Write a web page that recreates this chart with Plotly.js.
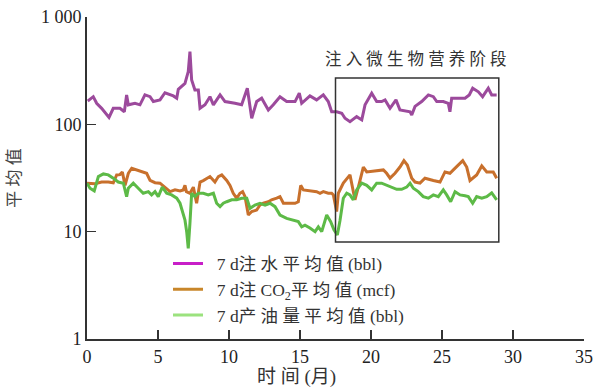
<!DOCTYPE html>
<html>
<head>
<meta charset="utf-8">
<script src="https://cdn.plot.ly/plotly-3.0.1.min.js"></script>
<style>html,body{margin:0;padding:0;background:#fff;}#chart{width:595px;height:388px;}</style>
</head>
<body>
<div id="chart"></div>
<script>
// 7 d water injection average (bbl)
const waterMonth = [0.05,0.44,0.68,1.03,1.55,1.85,2.32,2.63,2.79,2.91,3.38,3.73,4.08,4.44,4.67,5.14,5.49,6.08,6.32,6.43,6.9,7.13,7.25,7.37,7.6,7.84,7.96,8.31,8.66,8.9,9.37,9.72,10.42,10.89,11.29,11.48,11.6,11.95,12.3,12.77,13.12,13.59,14.06,14.65,14.95,15.12,15.7,16.17,16.64,16.99,17.23,17.58,17.94,18.17,18.52,18.99,19.35,19.58,20.05,20.4,20.75,20.99,21.34,21.76,22.04,22.75,22.87,23.1,23.57,24.04,24.39,24.63,25.09,25.44,25.56,25.68,26.62,26.92,27.16,27.56,27.86,28.26,28.5,28.85];
const waterVal = [165,181,157,141,116,141,141,131,188,152,157,152,188,181,163,169,197,184,175,212,241,310,476,259,209,209,141,152,181,152,188,163,157,152,217,147,114,163,175,136,152,181,163,163,195,157,184,169,188,163,131,131,127,114,106,118,110,152,195,163,163,169,141,169,136,131,122,147,163,188,181,163,163,157,131,175,175,188,217,201,181,217,188,188];

// 7 d CO2 injection average (mcf)
const co2Month = [0,0.56,1.03,1.5,1.85,2.09,2.32,2.49,2.68,2.91,3.15,3.5,3.85,4.2,4.44,4.79,5.14,5.49,5.85,6.2,6.55,6.78,6.9,7.0,7.25,7.49,7.72,7.96,8.19,8.66,8.9,9.01,9.25,9.49,9.84,10.07,10.3,10.54,10.77,10.96,11.13,11.36,11.6,11.95,12.18,12.42,12.77,13.0,13.36,13.59,13.83,14.3,14.65,14.88,15.05,15.24,15.7,16.17,16.41,16.64,16.99,17.23,17.35,17.58,17.7,18.05,18.52,18.64,18.87,19.18,19.46,19.7,20.4,20.87,21.1,21.34,21.69,22.04,22.32,22.56,22.87,23.1,23.45,23.8,24.39,24.86,25.21,25.56,25.8,26.15,26.46,26.74,26.97,27.44,27.8,28.15,28.61,28.85];
const co2Val = [28.3,28,29,29,28.5,33.8,34,36,27,35,39,37.6,36,35,30,28.6,28.3,26,23.6,24.5,24,24.5,27,23.6,22.8,26,18.4,29,29.9,32.6,30,29,32.6,33.8,30,27,22.8,20.5,22.8,23.6,21.2,14.3,15.4,15.9,17.7,18.4,19,19.8,20.5,21.2,18.4,18.4,18.4,19,27,24.5,24,23.6,22.8,23.6,22.8,22.8,22,15.4,22.8,28.3,33.8,28.3,19.8,28.3,40,36,37,37.6,35,31.5,35,40,45.9,41.8,31.5,29,28.3,31.5,30,29,36,35,37.6,41.8,45.9,40,30,33.8,41,36,36,31.5];

// 7 d oil production average (bbl)
const oilMonth = [0,0.21,0.51,0.8,1.15,1.5,1.85,2.2,2.56,2.79,2.91,3.26,3.61,3.96,4.32,4.55,4.79,5.02,5.3,5.61,5.96,6.32,6.55,6.78,6.9,7.02,7.13,7.25,7.37,7.6,7.84,8.19,8.54,8.9,9.13,9.37,9.6,9.84,10.19,10.54,10.89,11.25,11.48,11.83,12.18,12.54,12.89,13.24,13.59,14.06,14.53,14.88,15.12,15.35,15.7,16.06,16.29,16.53,16.88,17.16,17.39,17.63,17.82,18.05,18.29,18.52,18.75,18.99,19.35,19.7,20.05,20.4,20.75,21.1,21.46,21.81,22.16,22.51,22.75,22.98,23.33,23.68,24.04,24.39,24.74,25.09,25.33,25.61,25.92,26.27,26.62,26.85,27.16,27.44,27.8,28.15,28.5,28.73,28.85];
const oilVal = [28.3,25.4,24,32.6,34.5,33.8,31.5,29,28.3,21.2,25.4,28.3,25.4,22.8,23.6,22,23.6,21.2,26,22.8,22,20.5,18.4,14.3,12.8,10,7.0,12,22.8,21.2,22.8,22.8,22,22.8,18.4,17.1,18.4,19,19.8,19.8,20.5,20.5,16.5,17.7,18.4,17.7,18.4,17.1,14.3,13.3,12.8,12.4,11.1,11.5,10.8,10,11.1,10,14.3,12.4,10.4,9.3,12.8,20.5,22.8,22,19.8,24.5,28.3,27,24.5,28.3,28.3,27,26,24.8,24.8,26,28.3,25.4,23.6,21.2,20.5,22,21.2,24.5,22,19,23.6,22,21.6,21.2,18.4,21.2,20.5,21.2,23,20.5,19.8];

// Nutrient injection stage window
const stageX = [17.5, 29];
const stageY = [8, 270];
const stageLabel = '注 入 微 生 物 营 养 阶 段';

const NB = '\u00A0';
const legendNames = [NB+NB+'7 d注 水 平 均 值 (bbl)', NB+NB+'7 d注 CO<sub>2</sub>平 均 值 (mcf)', NB+NB+'7 d产 油 量 平 均 值 (bbl)'];
const legendColors = ['#C81FC8', '#C8862A', '#9BE27E'];
const lineColors = ['#9C4A9C', '#C8702C', '#5DBA47'];

const xTicks = [0,5,10,15,20,25,30,35];
const yTicks = [1,10,100,1000];
const yTickText = ['1','10','100','1 000'];
const xTitle = '时 间 (月)';
const yTitle = '平 均 值';

const FONT = 'Liberation Serif, Times New Roman, Noto Sans CJK SC, serif';

const traces = [];
const series = [[waterMonth, waterVal],[co2Month, co2Val],[oilMonth, oilVal]];
series.forEach((s, i) => {
  traces.push({x: s[0], y: s[1], type: 'scatter', mode: 'lines', line: {color: lineColors[i], width: 3}, showlegend: false, hoverinfo: 'skip'});
});
legendNames.forEach((n, i) => {
  traces.push({x: [null], y: [null], type: 'scatter', mode: 'lines', name: n, line: {color: legendColors[i], width: 3}, showlegend: true});
});

const layout = {
  width: 595, height: 388,
  margin: {l: 87, r: 11, t: 17, b: 49},
  paper_bgcolor: '#fff', plot_bgcolor: '#fff',
  font: {family: FONT, size: 17, color: '#222'},
  showlegend: true,
  legend: {x: 0.163, y: 0.29, xanchor: 'left', yanchor: 'top', bgcolor: 'rgba(0,0,0,0)', font: {size: 17.5, family: FONT, color: '#333'}, tracegroupgap: 0},
  xaxis: {
    range: [0, 35], tickvals: xTicks, ticks: 'inside', ticklen: 9, tickwidth: 1.5, tickcolor: '#333',
    showline: true, linecolor: '#333', linewidth: 2, showgrid: false, zeroline: false,
    tickfont: {size: 18, family: FONT, color: '#222'}
  },
  yaxis: {
    type: 'log', range: [0, 3], tickvals: yTicks, ticktext: yTickText, ticks: 'inside', ticklen: 9, tickwidth: 1.5, tickcolor: '#333',
    showline: true, linecolor: '#333', linewidth: 2, showgrid: false, zeroline: false,
    tickfont: {size: 18, family: FONT, color: '#222'},
    title: {text: yTitle, font: {size: 17, family: FONT, color: '#444'}, standoff: 16}
  },
  shapes: [{type: 'rect', xref: 'x', yref: 'y', x0: stageX[0], x1: stageX[1], y0: stageY[0], y1: stageY[1], line: {color: '#333', width: 1.5}, fillcolor: 'rgba(0,0,0,0)'}],
  annotations: [
    {xref: 'x', yref: 'y', x: 23.2, y: Math.log10(400), text: stageLabel, showarrow: false, font: {size: 16.5, family: FONT, color: '#333'}},
    {xref: 'paper', yref: 'paper', x: 0.421, y: -0.118, yanchor: 'middle', text: xTitle, showarrow: false, font: {size: 19, family: FONT, color: '#333'}}
  ]
};

Plotly.newPlot('chart', traces, layout, {displayModeBar: false, staticPlot: true});
</script>
</body>
</html>
